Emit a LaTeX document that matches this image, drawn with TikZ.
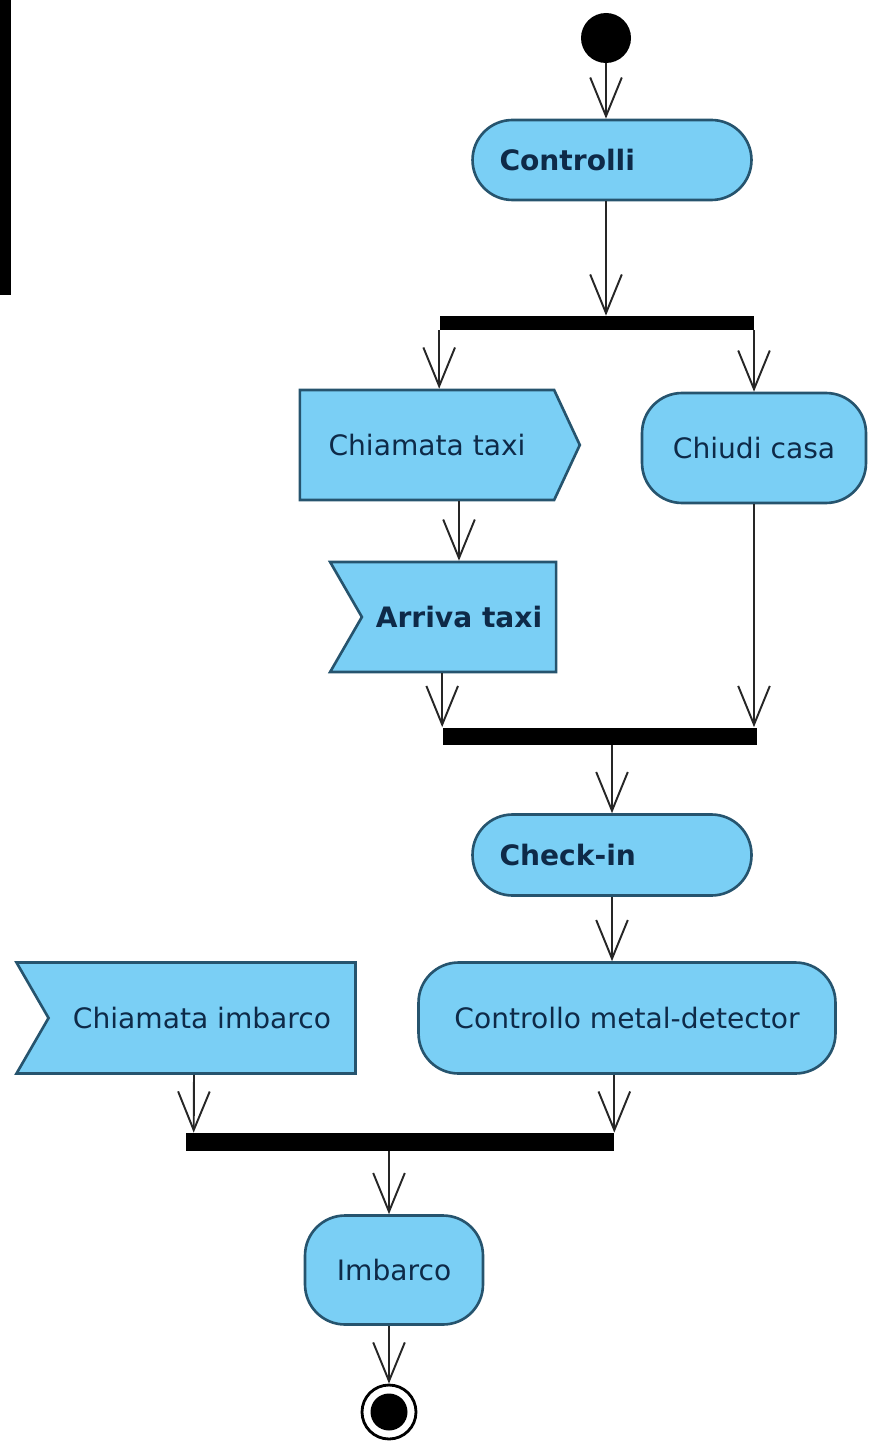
\documentclass[tikz,border=0pt]{standalone}
\usepackage{fontspec}
\setmainfont{DejaVu Sans}
\usepackage{tikz}
\usetikzlibrary{shapes}
\usetikzlibrary{shapes.symbols}
\usetikzlibrary{arrows.meta}
\usetikzlibrary{calc}
\usetikzlibrary{positioning}

\definecolor{actfill}{RGB}{122,207,245}
\definecolor{actline}{RGB}{38,84,110}
\definecolor{acttext}{RGB}{14,42,72}

\tikzset{
  action/.style={draw=actline, fill=actfill, line width=1.5pt, rounded corners=0.8cm,
    text=acttext, font=\fontsize{16}{19}\selectfont, inner sep=0pt},
  sendsig/.style={signal, signal to=east, signal from=nowhere, signal pointer angle=130,
    draw=actline, fill=actfill, line width=1.5pt, text=acttext,
    font=\fontsize{16}{19}\selectfont, inner sep=0pt},
  acceptsig/.style={signal, signal from=west, signal to=nowhere, signal pointer angle=120,
    draw=actline, fill=actfill, line width=1.5pt, text=acttext,
    font=\fontsize{16}{19}\selectfont, inner sep=0pt},
  syncbar/.style={fill=black, inner sep=0pt, minimum width=#1},
  flow/.style={draw=black!85, line width=1.1pt, -{Straight Barb[length=22pt,width=18pt,line width=1.1pt]}}
}

\begin{document}
\begin{tikzpicture}[x=0.02cm, y=-0.02cm]
      \path[use as bounding box] (0, 0) rectangle (883, 1442);
      \fill[black] (0, 0) rectangle (11, 295);

      \node (start) [circle, fill=black, minimum size=1cm, inner sep=0pt] at (606, 38) {};
      \node (ctrl) [action, minimum width=5.58cm, minimum height=1.6cm, text width=4.5cm,
        align=left, font=\fontsize{16}{19}\selectfont\bfseries] at (612, 160) {Controlli};
      \node (fork1) [syncbar=6.3cm, minimum height=0.28cm] at (597, 323) {};

      \node (chtaxi) [sendsig, minimum width=5.6cm, minimum height=2.2cm] at (427, 445) {Chiamata taxi};
      \node (chcasa) [action, minimum width=4.48cm, minimum height=2.2cm] at (754, 448) {Chiudi casa};
      \node (arrtaxi) [acceptsig, minimum width=4.52cm, minimum height=2.2cm,
        font=\fontsize{16}{19}\selectfont\bfseries] at (459, 617) {Arriva taxi};
      \node (join1) [syncbar=6.3cm, minimum height=0.34cm] at (600, 736) {};

      \node (checkin) [action, minimum width=5.58cm, minimum height=1.62cm, text width=4.5cm,
        align=left, font=\fontsize{16}{19}\selectfont\bfseries] at (612, 855) {Check-in};
      \node (metal) [action, minimum width=8.34cm, minimum height=2.22cm] at (627, 1018) {Controllo metal-detector};
      \node (chimb) [acceptsig, minimum width=6.78cm, minimum height=2.22cm] at (202, 1018) {Chiamata imbarco};
      \node (join2) [syncbar=8.56cm, minimum height=0.36cm] at (400, 1142) {};

      \node (imbarco) [action, minimum width=3.56cm, minimum height=2.18cm] at (394, 1270) {Imbarco};
      \node (final) [circle, draw=black, fill=white, line width=1.6pt, minimum size=1.08cm,
        inner sep=0pt] at (389, 1412) {};
      \fill[black] (final.center) circle (0.37cm);

      \draw[flow] (start.south) -- (start.south |- ctrl.north);
      \draw[flow] (ctrl.south -| start.south) -- (start.south |- fork1.north);
      \draw[flow] (fork1.south west) -- (fork1.south west |- chtaxi.north);
      \draw[flow] (fork1.south -| chcasa.north) -- (chcasa.north);
      \draw[flow] (arrtaxi.north |- chtaxi.south) -- (arrtaxi.north);
      \draw[flow] (join1.north west |- arrtaxi.south) -- (join1.north west);
      \draw[flow] (chcasa.south) -- (chcasa.south |- join1.north);
      \draw[flow] (join1.south -| checkin.north) -- (checkin.north);
      \draw[flow] (checkin.south) -- (checkin.south |- metal.north);
      \draw[flow] ($(chimb.south)+(-8, 0)$) -- ($(join2.north west)+(8, 0)$);
      \draw[flow] (metal.south -| join2.east) -- (join2.north east);
      \draw[flow] (join2.south -| final.north) -- (final.north |- imbarco.north);
      \draw[flow] (final.north |- imbarco.south) -- (final.north);
    \end{tikzpicture}
\end{document}
